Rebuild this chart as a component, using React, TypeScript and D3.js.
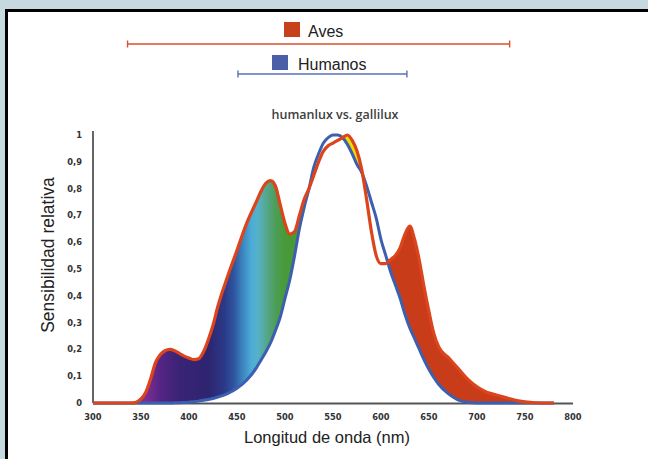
import React from "react";
import * as d3 from "d3";

const wavelengths = [300, 340, 345, 350, 355, 360, 365, 370, 375, 380, 385, 390, 395, 400, 405, 410, 415, 420, 425, 430, 440, 450, 460, 470, 475, 480, 485, 490, 495, 500, 505, 510, 515, 520, 525, 530, 535, 540, 545, 550, 555, 560, 565, 570, 575, 580, 585, 590, 595, 600, 605, 610, 615, 620, 625, 630, 635, 640, 645, 650, 655, 660, 670, 680, 690, 700, 710, 720, 730, 740, 750, 760, 780];

const aves = [0, 0, 0.003, 0.015, 0.04, 0.09, 0.15, 0.18, 0.195, 0.2, 0.195, 0.185, 0.175, 0.168, 0.162, 0.165, 0.19, 0.235, 0.29, 0.36, 0.47, 0.57, 0.67, 0.75, 0.79, 0.82, 0.83, 0.81, 0.74, 0.67, 0.63, 0.64, 0.7, 0.76, 0.8, 0.85, 0.9, 0.94, 0.96, 0.97, 0.98, 0.99, 1.0, 0.98, 0.94, 0.87, 0.76, 0.64, 0.55, 0.52, 0.52, 0.535, 0.55, 0.58, 0.63, 0.66, 0.61, 0.53, 0.43, 0.34, 0.26, 0.21, 0.17, 0.13, 0.09, 0.06, 0.04, 0.03, 0.02, 0.01, 0.004, 0.001, 0];

const humanos = [0, 0, 0, 0, 0, 0, 0, 0, 0, 0, 0.0005, 0.001, 0.002, 0.003, 0.005, 0.007, 0.01, 0.013, 0.017, 0.022, 0.035, 0.055, 0.085, 0.13, 0.16, 0.19, 0.225, 0.27, 0.32, 0.39, 0.46, 0.55, 0.65, 0.73, 0.8, 0.88, 0.93, 0.97, 0.99, 1.0, 1.0, 0.99, 0.965, 0.93, 0.89, 0.86, 0.81, 0.75, 0.69, 0.61, 0.55, 0.49, 0.44, 0.39, 0.33, 0.28, 0.24, 0.2, 0.16, 0.125, 0.095, 0.07, 0.035, 0.012, 0.003, 0, 0, 0, 0, 0, 0, 0, 0];

const xTicks = [300, 350, 400, 450, 500, 550, 600, 650, 700, 750, 800];
const yTicks = [0, 0.1, 0.2, 0.3, 0.4, 0.5, 0.6, 0.7, 0.8, 0.9, 1];

const avesRange = [336, 734];
const humanosRange = [451, 627];

const spectrumWl = [350, 370, 390, 420, 437, 447, 456, 465, 472, 480, 490, 500, 545, 556, 578, 590, 800];
const spectrumColors = ["#8a3096", "#552585", "#3a2375", "#2e2470", "#2b3a88", "#2f55a0", "#3c85c0", "#4dacd8", "#55b2c8", "#55a890", "#4c9e58", "#489a38", "#489a30", "#f0dc00", "#f0dc00", "#c83c1a", "#c83c1a"];

type P = { w: number; a: number; h: number };

export default function App() {
  const W = 648;
  const H = 459;
  const x = d3.scaleLinear().domain([300, 800]).range([93, 573]);
  const y = d3.scaleLinear().domain([0, 1]).range([403, 135]);
  const pts: P[] = wavelengths.map((w, i) => ({ w, a: aves[i], h: humanos[i] }));

  const area = d3
    .area<P>()
    .x((d) => x(d.w))
    .y0((d) => y(d.h))
    .y1((d) => y(Math.max(d.a, d.h)))
    .curve(d3.curveMonotoneX);
  const lineA = d3
    .line<P>()
    .x((d) => x(d.w))
    .y((d) => y(d.a))
    .curve(d3.curveMonotoneX);
  const lineH = d3
    .line<P>()
    .x((d) => x(d.w))
    .y((d) => y(d.h))
    .curve(d3.curveMonotoneX);

  const fmt = (v: number) => (v === 0 ? "0" : v === 1 ? "1" : d3.format(".1f")(v).replace(".", ","));
  const x0 = x(300);
  const x1 = x(800);
  const tickFont = { fontFamily: "DejaVu Sans", fontWeight: 700, fontSize: 8.3, fill: "#333" } as const;

  const cap = 3.5;
  const legY1 = 44;
  const legY2 = 74;

  return (
    <svg width={W} height={H} style={{ position: "fixed", left: 0, top: 0 }}>
      <defs>
        <linearGradient id="spec" gradientUnits="userSpaceOnUse" x1={x(300)} x2={x(800)} y1={0} y2={0}>
          {spectrumWl.map((w, i) => (
            <stop key={i} offset={(w - 300) / 500} stopColor={spectrumColors[i]} />
          ))}
        </linearGradient>
      </defs>
      <rect x={0} y={0} width={W} height={H} fill="#c6d9df" />
      <rect x={6.5} y={10.5} width={W + 10} height={H + 10} fill="#ffffff" stroke="#000" strokeWidth={3} />

      {/* legend */}
      <line x1={x(avesRange[0])} x2={x(avesRange[1])} y1={legY1} y2={legY1} stroke="#d8502c" strokeWidth={1.6} />
      <line x1={x(avesRange[0])} x2={x(avesRange[0])} y1={legY1 - cap} y2={legY1 + cap} stroke="#d8502c" strokeWidth={1.4} />
      <line x1={x(avesRange[1])} x2={x(avesRange[1])} y1={legY1 - cap} y2={legY1 + cap} stroke="#d8502c" strokeWidth={1.4} />
      <rect x={284} y={22} width={16} height={15} fill="#c8401c" />
      <text x={308} y={37} fontFamily="Liberation Sans, Arial" fontSize={16} fill="#222">Aves</text>

      <line x1={x(humanosRange[0])} x2={x(humanosRange[1])} y1={legY2} y2={legY2} stroke="#5a70b8" strokeWidth={1.6} />
      <line x1={x(humanosRange[0])} x2={x(humanosRange[0])} y1={legY2 - cap} y2={legY2 + cap} stroke="#5a70b8" strokeWidth={1.4} />
      <line x1={x(humanosRange[1])} x2={x(humanosRange[1])} y1={legY2 - cap} y2={legY2 + cap} stroke="#5a70b8" strokeWidth={1.4} />
      <rect x={272} y={55} width={16} height={15} fill="#4a5fa8" />
      <text x={298} y={70} fontFamily="Liberation Sans, Arial" fontSize={16} fill="#222">Humanos</text>

      {/* title */}
      <text x={335} y={119} textAnchor="middle" fontFamily="Open Sans" fontWeight={600} fontSize={12.5} fill="#404040">
        humanlux vs. gallilux
      </text>

      {/* axes */}
      <line x1={x0} x2={x0} y1={131} y2={y(0)} stroke="#333" strokeWidth={1.5} />
      <line x1={x0} x2={x1} y1={y(0) + 0.5} y2={y(0) + 0.5} stroke="#555" strokeWidth={2.2} />

      {yTicks.map((t) => (
        <text key={t} x={82} y={y(t) + 3} textAnchor="end" {...tickFont}>
          {fmt(t)}
        </text>
      ))}
      {xTicks.map((t) => (
        <text key={t} x={x(t)} y={420} textAnchor="middle" {...tickFont}>
          {t}
        </text>
      ))}

      <text x={327} y={443} textAnchor="middle" fontFamily="Liberation Sans, Arial" fontSize={16.5} fill="#222">
        Longitud de onda (nm)
      </text>
      <text
        transform={`translate(54,255) rotate(-90)`}
        textAnchor="middle"
        fontFamily="Liberation Sans, Arial"
        fontSize={17.5}
        fill="#222"
      >
        Sensibilidad relativa
      </text>

      {/* curves */}
      <path d={area(pts) || ""} fill="url(#spec)" />
      <path d={lineH(pts) || ""} fill="none" stroke="#3d5fb0" strokeWidth={3} strokeLinejoin="round" />
      <path d={lineA(pts) || ""} fill="none" stroke="#dc441c" strokeWidth={3.2} strokeLinejoin="round" />
    </svg>
  );
}
